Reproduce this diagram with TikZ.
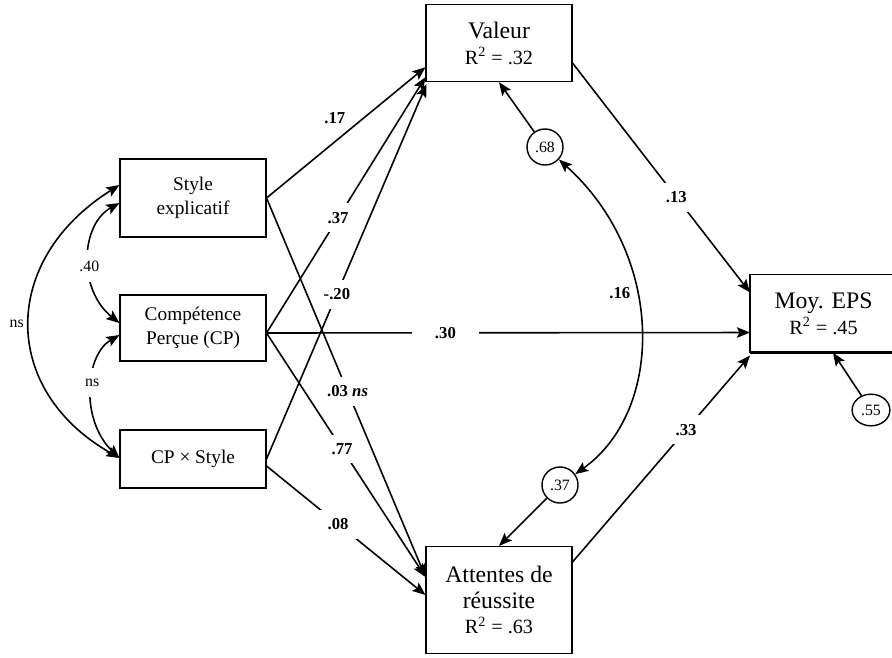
\documentclass[tikz,border=0pt]{standalone}
\usepackage{fontspec}
\setmainfont{Liberation Serif}
\usetikzlibrary{arrows.meta,calc,shapes.geometric}

\begin{document}
\begin{tikzpicture}[x=0.02cm,y=-0.02cm,
  box/.style={draw,line width=0.9pt,align=center,inner sep=0pt,minimum width=82.8pt},
  small/.style={font=\fontsize{11}{13.6}\selectfont},
  big/.style={font=\fontsize{11.5}{14.7}\selectfont},
  err/.style={draw,circle,line width=0.8pt,minimum size=20.5pt,inner sep=0pt,font=\fontsize{9}{10}\selectfont},
  arr/.style={-{Stealth[length=7.5pt,width=6pt,inset=1.5pt]},line width=0.9pt},
  biarr/.style={{Stealth[length=7.5pt,width=6pt,inset=1.5pt]}-{Stealth[length=7.5pt,width=6pt,inset=1.5pt]},line width=0.9pt},
  lbl/.style={font=\bfseries\fontsize{9.5}{11}\selectfont,fill=white,inner sep=5pt},
  nlbl/.style={font=\fontsize{9}{10}\selectfont,inner sep=1pt}]
\useasboundingbox (0,0) rectangle (892,657);
\clip (0,0) rectangle (892,657);

\node[box,small,minimum height=44.2pt] (style) at (193,198) {Style\\explicatif};
\node[box,small,minimum height=37.4pt] (cp) at (193,328) {Compétence\\Perçue (CP)};
\node[box,small,minimum height=32.9pt] (cpxs) at (193,459) {CP × Style};
\node[box,big,minimum height=43.7pt] (valeur) at (499,43)
  {{\fontsize{13.5}{15}\selectfont Valeur}\\R\textsuperscript{2} = .32};
\node[box,big,minimum height=60.7pt] (attentes) at (499,600)
  {{\fontsize{13.5}{16}\selectfont Attentes de}\\{\fontsize{13.5}{16}\selectfont réussite}\\R\textsuperscript{2} = .63};
\node[box,big,draw=none,minimum height=43.7pt,anchor=west] (moy) at (750,313.5)
  {{\fontsize{13.5}{15}\selectfont Moy. EPS}\\R\textsuperscript{2} = .45};
% boite coupee au bord droit
\draw[line width=0.9pt] ($(moy.north west)+(180,0)$) -- (moy.north west) -- (moy.south west);
\draw[line width=1.8pt] (moy.south west) -- ++(180,0);

\node[err] (e68) at (545,147) {.68};
\node[err] (e37) at (560,485) {.37};
\node[err,ellipse,minimum width=21.5pt,minimum height=18pt] (e55) at (871,410) {.55};

% predicteurs -> valeur / attentes
\draw[arr] (style.east) -- node[pos=0.43,above=9pt,lbl,fill=none,inner sep=1pt] {.17} ($(valeur.south west)+(0,-15)$);
\draw[arr] ($(cp.east)+(0,5)$) -- node[lbl,pos=0.45] {.37} ($(valeur.south west)+(0,-5)$);
\draw[arr] (cpxs.east) -- node[lbl,pos=0.44] {-.20} ($(valeur.south west)+(1,2)$);
\draw[arr] (style.east) -- node[lbl,pos=0.51] {.03 \textit{ns}} ($(attentes.west)+(0,-23)$);
\draw[arr] ($(cp.east)+(0,5)$) -- node[lbl,pos=0.475] {.77} ($(attentes.west)+(0,-23)$);
\draw[arr] ($(cpxs.east)+(0,7)$) -- node[lbl,pos=0.45] {.08} ($(attentes.west)+(0,-5)$);
\draw[arr] ($(cp.east)+(0,5)$) -- node[lbl,pos=0.37,inner xsep=13pt] {.30} ($(moy.west)+(0,19)$);

% vers moy. EPS
\draw[arr] ($(valeur.east)+(0,20)$) -- node[lbl,pos=0.585] {.13} ($(moy.west)+(0,-21)$);
\draw[arr] ($(attentes.east)+(0,-38)$) -- node[lbl,pos=0.64] {.33} ($(moy.west)+(0,42)$);

% residus
\draw[arr] (e68) -- (valeur.south);
\draw[arr] (e37) -- (attentes.north);
\draw[arr] (e55) -- ($(moy.south west)+(83,0)$);
\draw[biarr] (e68) .. controls (665,255) and (665,410) .. node[pos=0.4,left=2pt,lbl,fill=none,inner sep=1pt] {.16} (e37);

% correlations
\draw[biarr] ($(cpxs.west)+(0,-1)$) .. controls (0,390) and (0,260) .. node[pos=0.5,left=2pt,nlbl] {ns} ($(style.west)+(0,-13)$);
\draw[biarr] ($(style.west)+(0,5)$) .. controls (80,225) and (78,290) .. node[pos=0.55,nlbl,fill=white,inner sep=6pt] {.40} ($(cp.west)+(0,-5)$);
\draw[biarr] ($(cp.west)+(0,7)$) .. controls (85,355) and (80,420) .. node[pos=0.45,nlbl,fill=white,inner sep=6pt] {ns} ($(cpxs.west)+(0,-1)$);
\end{tikzpicture}
\end{document}
